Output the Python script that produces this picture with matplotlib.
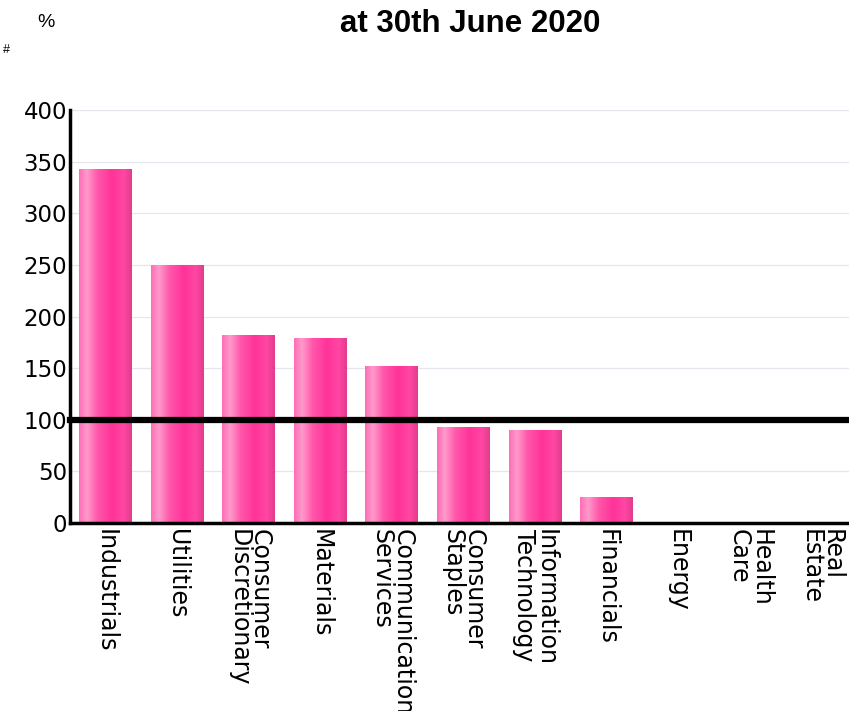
import numpy as np
import matplotlib
matplotlib.use("Agg")
import matplotlib.pyplot as plt
from matplotlib.colors import LinearSegmentedColormap

# data
sectors = ["Industrials", "Utilities", "Consumer\nDiscretionary", "Materials",
           "Communication\nServices", "Consumer\nStaples", "Information\nTechnology",
           "Financials", "Energy", "Health\nCare", "Real\nEstate"]
weights = [343, 250, 182, 179, 152, 93, 90, 25, 0, 0, 0]
benchmark = 100
yticks = [0, 50, 100, 150, 200, 250, 300, 350, 400]

fig = plt.figure(figsize=(8.49, 7.11), dpi=100)
ax = fig.add_axes([0.0824, 0.2644, 0.927, 0.5809])

# shiny pink bar gradient, left to right
shine = LinearSegmentedColormap.from_list("shine", [
    (0.0, "#ff6db6"), (0.15, "#ff9acb"), (0.35, "#ff58ab"),
    (0.62, "#ff3399"), (0.85, "#ff47a3"), (1.0, "#e23b8c")])
grad = np.linspace(0, 1, 256).reshape(1, -1)

x = np.arange(len(sectors))
bars = ax.bar(x, weights, width=0.74, color="none", edgecolor="none", zorder=2)
for b in bars:
    if b.get_height() <= 0:
        continue
    x0, y0 = b.get_x(), b.get_y()
    im = ax.imshow(grad, cmap=shine, aspect="auto", zorder=2,
                   extent=(x0, x0 + b.get_width(), y0, y0 + b.get_height()))
    im.set_clip_path(b)

ax.axhline(benchmark, color="black", lw=4.5, zorder=4, clip_on=False)

ax.set_xlim(-0.5, len(sectors) - 0.5)
ax.set_ylim(0, 400)
ax.set_yticks(yticks)
ax.yaxis.grid(True, color="#e6e6ee", lw=0.9, zorder=0)
ax.set_axisbelow(True)
ax.set_xticks(x)
ax.set_xticklabels(sectors, rotation=270, fontsize=17, va="top", ha="center",
                   multialignment="left", linespacing=0.85)
ax.tick_params(axis="both", length=0, pad=4)
ax.tick_params(axis="y", labelsize=16.5, pad=2)
for s in ["top", "right"]:
    ax.spines[s].set_visible(False)
for s in ["left", "bottom"]:
    ax.spines[s].set_linewidth(2.5)

fig.text(0.5536, 0.966, "at 30th June 2020", ha="center", va="center",
         fontsize=22.5, fontweight="bold", family="Liberation Sans")
fig.text(0.054, 0.969, "%", ha="center", va="center", fontsize=14,
         family="Liberation Sans")
fig.text(0.004, 0.93, "#", ha="left", va="center", fontsize=9,
         family="Liberation Sans")

plt.savefig("out.png", dpi=100)
plt.close()
